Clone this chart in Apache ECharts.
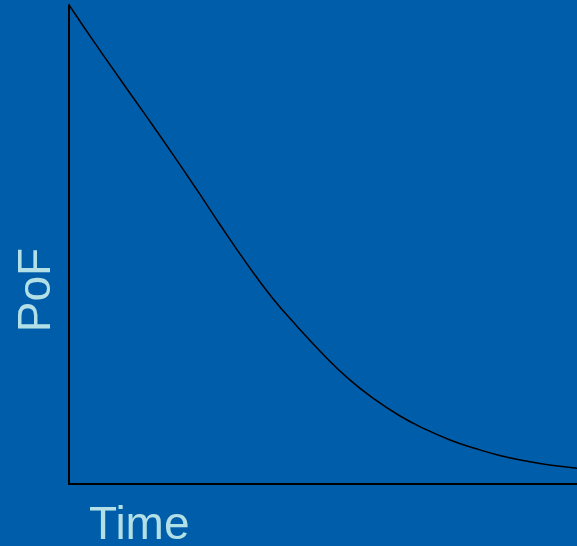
<!DOCTYPE html>
<html>
<head>
<meta charset="utf-8">
<script src="https://cdn.jsdelivr.net/npm/echarts@6/dist/echarts.min.js"></script>
<style>
html,body{margin:0;padding:0;background:#005DAA;}
#chart{width:577px;height:546px;}
</style>
</head>
<body>
<div id="chart"></div>
<script>
var timeValues = [0, 5, 10, 15, 20, 25, 30, 35, 40, 45, 50, 55, 60, 65, 70, 75, 80, 85, 90, 95, 100];
var pofValues = [100, 92.2, 84.6, 77.1, 69.5, 61.7, 53.7, 46.0, 38.9, 32.8, 27.1, 22.0, 17.8, 14.3, 11.5, 9.2, 7.4, 5.9, 4.8, 3.9, 3.3];
var xAxisTitle = 'Time';
var yAxisTitle = 'PoF';

var chart = echarts.init(document.getElementById('chart'), null, {renderer: 'canvas'});
var seriesData = timeValues.map(function (t, i) { return [t, pofValues[i]]; });
chart.setOption({
  backgroundColor: '#005DAA',
  animation: false,
  grid: {left: 69, right: 0, top: 5, bottom: 62},
  xAxis: {
    type: 'value', min: 0, max: 100,
    axisLine: {show: true, onZero: false, lineStyle: {color: '#000', width: 2}},
    axisTick: {show: false}, axisLabel: {show: false}, splitLine: {show: false}
  },
  yAxis: {
    type: 'value', min: 0, max: 100,
    axisLine: {show: true, onZero: false, lineStyle: {color: '#000', width: 2}},
    axisTick: {show: false}, axisLabel: {show: false}, splitLine: {show: false}
  },
  series: [{
    type: 'line',
    data: seriesData,
    smooth: 0.5,
    showSymbol: false,
    lineStyle: {color: '#000', width: 1.5}
  }],
  graphic: [
    {type: 'text', left: 89, top: 503, style: {text: xAxisTitle, font: '46px "Liberation Sans", Arial, sans-serif', fill: '#B3DFE6'}},
    {type: 'text', x: 37, y: 290, rotation: Math.PI / 2, style: {text: yAxisTitle, font: '46px "Liberation Sans", Arial, sans-serif', fill: '#B3DFE6', align: 'center', verticalAlign: 'middle'}}
  ]
});
</script>
</body>
</html>
